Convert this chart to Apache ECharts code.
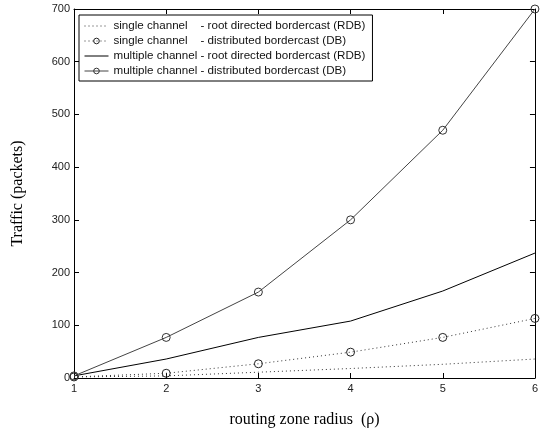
<!DOCTYPE html>
<html>
<head>
<meta charset="utf-8">
<script src="https://cdn.jsdelivr.net/npm/echarts@6/dist/echarts.min.js"></script>
<style>
html,body{margin:0;padding:0;background:#fff;}
#main{width:541px;height:433px;}
</style>
</head>
<body>
<div id="main"></div>
<script>
// routing zone radius
var radius = [1, 2, 3, 4, 5, 6];
// traffic (packets)
var singleRDB = [2, 4, 11, 18, 26, 36];
var singleDB = [2, 9, 27, 49, 77, 113];
var multiRDB = [4, 36, 77, 108, 165, 237];
var multiDB = [4, 77, 163, 300, 470, 700];
var yTicks = [0, 100, 200, 300, 400, 500, 600, 700];

var names = [
	'single channel    - root directed bordercast (RDB)',
	'single channel    - distributed bordercast (DB)',
	'multiple channel - root directed bordercast (RDB)',
	'multiple channel - distributed bordercast (DB)'
];

function pairs(arr) {
	return arr.map(function (v, i) { return [radius[i], v]; });
}

var myChart = echarts.init(document.getElementById('main'));

var tickFont = { color: '#222', fontFamily: 'Liberation Sans', fontSize: 11 };

myChart.setOption({
	animation: false,
	backgroundColor: '#fff',
	grid: { left: 74, right: 3, top: 9, bottom: 54 },
	legend: {
		orient: 'vertical',
		left: 79,
		top: 15,
		itemWidth: 24,
		itemHeight: 7,
		itemGap: 1,
		padding: [4, 7, 3, 5],
		borderColor: '#000',
		borderWidth: 1,
		backgroundColor: '#fff',
		lineStyle: { width: 1 },
		textStyle: { color: '#111', fontFamily: 'Liberation Sans', fontSize: 11.6, lineHeight: 14 },
		data: [
			{ name: names[0], itemStyle: { opacity: 0 } },
			{ name: names[1], itemStyle: { borderWidth: 1 } },
			{ name: names[2], itemStyle: { opacity: 0 } },
			{ name: names[3], itemStyle: { borderWidth: 1 } }
		]
	},
	xAxis: [{
		type: 'value', min: 1, max: 6, interval: 1,
		name: 'routing zone radius  (\u03c1)',
		nameLocation: 'middle', nameGap: 34,
		nameTextStyle: { color: '#000', fontFamily: 'Liberation Serif', fontSize: 16 },
		axisLine: { onZero: false, lineStyle: { color: '#000' } },
		axisTick: { inside: true, length: 5, lineStyle: { color: '#000' } },
		axisLabel: Object.assign({ margin: 5 }, tickFont),
		splitLine: { show: false }
	}, {
		type: 'value', min: 1, max: 6, interval: 1, position: 'top',
		axisLine: { onZero: false, lineStyle: { color: '#000' } },
		axisTick: { inside: true, length: 5, lineStyle: { color: '#000' } },
		axisLabel: { show: false },
		splitLine: { show: false }
	}],
	yAxis: [{
		type: 'value', min: yTicks[0], max: yTicks[yTicks.length - 1], interval: 100,
		name: 'Traffic (packets)',
		nameLocation: 'middle', nameGap: 48,
		nameTextStyle: { color: '#000', fontFamily: 'Liberation Serif', fontSize: 16 },
		axisLine: { show: true, lineStyle: { color: '#000' } },
		axisTick: { show: true, inside: true, length: 5, lineStyle: { color: '#000' } },
		axisLabel: Object.assign({ margin: 4 }, tickFont),
		splitLine: { show: false }
	}, {
		type: 'value', min: yTicks[0], max: yTicks[yTicks.length - 1], interval: 100, position: 'right',
		axisLine: { show: true, lineStyle: { color: '#000' } },
		axisTick: { show: true, inside: true, length: 5, lineStyle: { color: '#000' } },
		axisLabel: { show: false },
		splitLine: { show: false }
	}],
	series: [{
		name: names[0], type: 'line', data: pairs(singleRDB),
		symbol: 'none',
		lineStyle: { color: '#333', width: 1, type: [1, 3] },
		itemStyle: { color: '#333' }
	}, {
		name: names[1], type: 'line', data: pairs(singleDB),
		symbol: 'circle', symbolSize: 8,
		lineStyle: { color: '#333', width: 1, type: [1, 3] },
		itemStyle: { color: 'rgba(255,255,255,0)', borderColor: '#222', borderWidth: 1 }
	}, {
		name: names[2], type: 'line', data: pairs(multiRDB),
		symbol: 'none',
		lineStyle: { color: '#000', width: 1 },
		itemStyle: { color: '#000' }
	}, {
		name: names[3], type: 'line', data: pairs(multiDB),
		symbol: 'circle', symbolSize: 8,
		lineStyle: { color: '#444', width: 1 },
		itemStyle: { color: 'rgba(255,255,255,0)', borderColor: '#333', borderWidth: 1 }
	}]
});
</script>
</body>
</html>
